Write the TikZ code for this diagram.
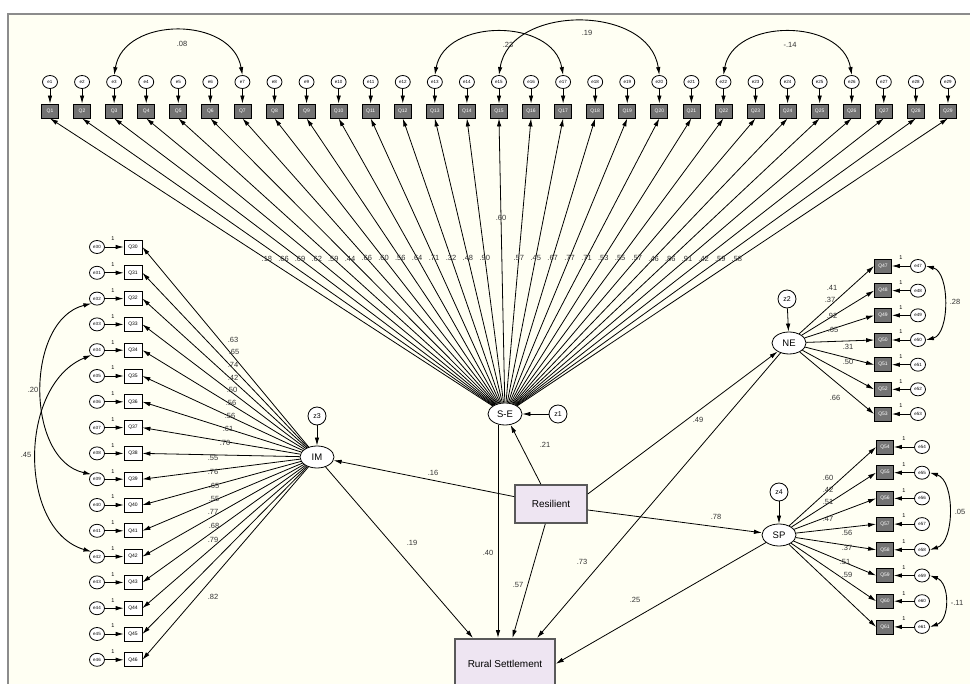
\documentclass[tikz,border=0pt]{standalone}
\usepackage{fontspec}
\setmainfont{Liberation Sans}
\usetikzlibrary{arrows.meta,shapes.geometric}
\definecolor{bgc}{HTML}{FFFFF3}
\definecolor{boxfill}{HTML}{EEE5F2}
\tikzset{
 obs/.style={draw, fill=black!55, text=white, minimum width=17pt, minimum height=14pt, inner sep=0pt, font=\fontsize{5}{5}\selectfont, line width=0.8pt},
 obsw/.style={obs, fill=white, text=black, minimum width=18pt, minimum height=14pt},
 err/.style={draw, ellipse, fill=white, minimum width=15pt, minimum height=13pt, inner sep=0pt, font=\fontsize{4.5}{4.5}\selectfont, line width=0.8pt},
 lat/.style={draw, ellipse, fill=white, minimum width=34pt, minimum height=22pt, inner sep=0pt, font=\fontsize{9.5}{9.5}\selectfont, line width=0.8pt},
 res/.style={draw, circle, fill=white, minimum size=18pt, inner sep=0pt, font=\fontsize{7}{7}\selectfont, line width=0.8pt},
 cbox/.style={draw=black!65, line width=1.6pt, fill=boxfill, font=\fontsize{10}{10}\selectfont},
 arr/.style={-{Latex[length=8pt,width=4.5pt]}, line width=0.8pt},
 darr/.style={{Latex[length=8pt,width=4.5pt]}-{Latex[length=8pt,width=4.5pt]}, line width=0.9pt},
 lab/.style={font=\fontsize{7.5}{7.5}\selectfont, text=black!80, inner sep=0pt},
 one/.style={font=\fontsize{5.5}{5.5}\selectfont, inner sep=0pt},
}
\begin{document}
\begin{tikzpicture}[x=1pt,y=-1pt]
\useasboundingbox (0,0) rectangle (970,684);
\fill[white] (0,0) rectangle (970,684);
\draw[fill=bgc, draw=black!45, line width=1.5pt] (8,14) rectangle (975,692);

% latent variables
\node[lat] (SE) at (505,414) {S-E};
\node[lat] (IM) at (317,457) {IM};
\node[lat] (NE) at (789,343) {NE};
\node[lat] (SP) at (779,535) {SP};
\node[res] (z1) at (558,414) {z1};
\node[res] (z3) at (317,416) {z3};
\node[res] (z2) at (787,299) {z2};
\node[res] (z4) at (779,492) {z4};
\draw[arr] (z1) -- (SE);
\draw[arr] (z3) -- (IM);
\draw[arr] (z2) -- (NE);
\draw[arr] (z4) -- (SP);

% top row
\foreach \i [evaluate=\i as \x using {50+(\i-1)*32.07}] in {1,...,29} {
  \node[obs] (t\i) at (\x,111) {Q\i};
  \node[err] (te\i) at (\x,82) {e\i};
  \draw[arr] (te\i) -- (t\i);
}
\foreach \i/\v/\p in {1/.18/0.51,2/.66/0.51,3/.69/0.51,4/.62/0.51,5/.59/0.51,6/.44/0.51,7/.66/0.51,8/.60/0.51,9/.56/0.51,10/.64/0.51,11/.71/0.51,12/.32/0.51,13/.48/0.51,14/.90/0.51,15/.60/0.65,16/.57/0.51,17/.45/0.51,18/.67/0.51,19/.77/0.51,20/.71/0.51,21/.53/0.51,22/.55/0.51,23/.57/0.51,24/.46/0.51,25/.86/0.51,26/.91/0.51,27/.42/0.51,28/.59/0.51,29/.58/0.51} {
  \draw[arr] (SE) -- (t\i.south) node[lab,pos=\p] (sl\i) {\v};
}
\draw[darr] (te3.north) .. controls (124,16) and (232,16) .. (te7.north);
\draw[darr] (te13.north) .. controls (445,18) and (553,18) .. (te17.north);
\draw[darr] (te15.north) .. controls (510,4) and (649,4) .. (te20.north);
\draw[darr] (te22.north) .. controls (733,18) and (842,18) .. (te26.north);
\node[lab] (c1) at (182,44) {.08};
\node[lab] (c2) at (508,45) {.23};
\node[lab] (c3) at (587,33) {.19};
\node[lab] (c4) at (790,45) {-.14};

% left column (IM)
\foreach \k [evaluate=\k as \yy using {247+(\k-1)*25.8}] in {1,...,17} {
  \pgfmathtruncatemacro\nn{\k+29}
  \node[obsw] (l\k) at (133,\yy) {Q\nn};
  \node[err] (le\k) at (97,\yy) {e\nn};
  \draw[arr] (le\k) -- (l\k);
  \node[one] (lo\k) at (113,\yy-8) {1};
  \draw[arr] (IM) -- (l\k.east);
}
\foreach \k/\xx/\yy/\v in {1/233/340/.63,2/234/352/.65,3/233/365/.74,4/233/378/.42,5/232/390/.50,6/231/403/.56,7/230/416/.56,8/228/429/.61,9/225/443/.70,10/213/458/.55,11/213/472/.76,12/214/486/.65,13/214/499/.55,14/213/512/.77,15/214/526/.68,16/213/540/.79,17/213/597/.82} {
  \node[lab] (il\k) at (\xx,\yy) {\v};
}
\draw[darr] (le3.south west) .. controls (25,320) and (25,460) .. (le10.north west);
\draw[darr] (le5.south west) .. controls (18,385) and (18,530) .. (le13.north west);
\node[lab] (c5) at (33,390) {.20};
\node[lab] (c6) at (26,455) {.45};

% NE indicators
\foreach \k [evaluate=\k as \yy using {266+(\k-1)*24.67}] in {1,...,7} {
  \pgfmathtruncatemacro\nn{\k+46}
  \node[obs] (n\k) at (883,\yy) {Q\nn};
  \node[err] (ne\k) at (918,\yy) {e\nn};
  \draw[arr] (ne\k) -- (n\k);
  \node[one] (no\k) at (901,\yy-8) {1};
  \draw[arr] (NE) -- (n\k.west);
}
\foreach \k/\xx/\yy/\v in {1/832/288/.41,2/830/300/.37,3/832/316/.92,4/833/330/.65,5/848/347/.31,6/848/362/.50,7/835/398/.66} {
  \node[lab] (nl\k) at (\xx,\yy) {\v};
}
\draw[darr] (ne1.east) .. controls (950,272) and (950,334) .. (ne4.east);
\node[lab] (c7) at (955,302) {.28};

% SP indicators
\foreach \k [evaluate=\k as \yy using {447+(\k-1)*25.7}] in {1,...,8} {
  \pgfmathtruncatemacro\nn{\k+53}
  \node[obs] (s\k) at (885,\yy) {Q\nn};
  \node[err] (se\k) at (922,\yy) {e\nn};
  \draw[arr] (se\k) -- (s\k);
  \node[one] (so\k) at (904,\yy-8) {1};
  \draw[arr] (SP) -- (s\k.west);
}
\foreach \k/\xx/\yy/\v in {1/828/478/.60,2/828/490/.42,3/828/502/.51,4/828/519/.47,5/847/533/.56,6/847/548/.37,7/845/562/.51,8/847/575/.59} {
  \node[lab] (spl\k) at (\xx,\yy) {\v};
}
\draw[darr] (se2.east) .. controls (955,480) and (955,542) .. (se5.east);
\draw[darr] (se6.east) .. controls (950,583) and (950,620) .. (se8.east);
\node[lab] (c8) at (960,512) {.05};
\node[lab] (c9) at (957,603) {-.11};

% central boxes
\node[cbox, minimum width=72pt, minimum height=38pt] (RES) at (551,504) {Resilient};
\node[cbox, minimum width=100pt, minimum height=50pt, anchor=north] (RUR) at (505,638) {Rural Settlement};

\draw[arr] (RES) -- (IM);
\draw[arr] (RES) -- (SE);
\draw[arr] ([yshift=10pt]RES.east) -- (NE);
\draw[arr] ([yshift=-6pt]RES.east) -- (SP);
\draw[arr] (RES) -- (RUR);
\draw[arr] ([xshift=-7pt]SE.south) -- ([xshift=-7pt]SE.south |- RUR.north);
\draw[arr] (IM) -- ([xshift=-32pt]RUR.north);
\draw[arr] (NE) -- ([xshift=32pt]RUR.north);
\draw[arr] (SP) -- (RUR.east);
\node[lab] (p1) at (433,473) {.16};
\node[lab] (p2) at (545,445) {.21};
\node[lab] (p3) at (698,420) {.49};
\node[lab] (p4) at (716,517) {.78};
\node[lab] (p5) at (518,585) {.57};
\node[lab] (p6) at (488,553) {.40};
\node[lab] (p7) at (412,543) {.19};
\node[lab] (p8) at (582,562) {.73};
\node[lab] (p9) at (635,600) {.25};
\end{tikzpicture}
\end{document}
